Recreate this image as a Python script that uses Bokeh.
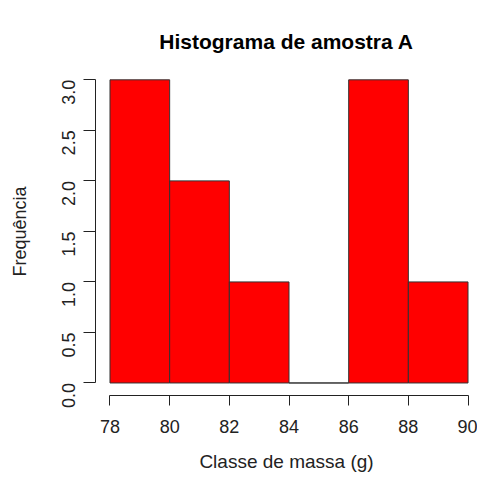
import math
from bokeh.plotting import figure
from bokeh.models import Range1d, FixedTicker, ColumnDataSource, NumeralTickFormatter
from bokeh.embed import file_html
from bokeh.resources import INLINE

# Data
bin_left = [78, 80, 82, 84, 86, 88]
bin_right = [80, 82, 84, 86, 88, 90]
counts = [3, 2, 1, 0, 3, 1]
x_ticks = [78, 80, 82, 84, 86, 88, 90]
y_ticks = [0.0, 0.5, 1.0, 1.5, 2.0, 2.5, 3.0]

title_text = "Histograma de amostra A"
x_label = "Classe de massa (g)"
y_label = "Frequência"

FONT = "Liberation Sans"

p = figure(width=477, height=476, output_backend="svg", toolbar_location=None,
           x_range=Range1d(77.514, 90.318), y_range=Range1d(-0.124, 3.122),
           min_border_left=95, min_border_right=0, min_border_top=67, min_border_bottom=81)
p.background_fill_color = "white"
p.border_fill_color = "white"
p.outline_line_color = None
p.xgrid.visible = False
p.ygrid.visible = False

src = ColumnDataSource(dict(left=bin_left, right=bin_right, top=counts, bottom=[0] * len(counts)))
p.quad(left="left", right="right", top="top", bottom="bottom", source=src,
       fill_color="#ff0000", line_color="#333333", line_width=1)

# Title
p.title.text = title_text
p.title.align = "center"
p.title.text_font = FONT
p.title.text_font_size = "21px"
p.title.text_font_style = "bold"
p.title.text_color = "#000000"
p.title.standoff = 30

# X axis
xa = p.xaxis[0]
xa.ticker = FixedTicker(ticks=x_ticks)
xa.bounds = (78, 90)
xa.major_tick_out = 10
xa.major_tick_in = 0
xa.minor_tick_line_color = None
xa.axis_line_color = "#222222"
xa.major_tick_line_color = "#222222"
xa.major_label_text_font = FONT
xa.major_label_text_font_size = "18px"
xa.major_label_text_color = "#222222"
xa.major_label_standoff = 14
xa.axis_label = x_label
xa.axis_label_text_font = FONT
xa.axis_label_text_font_size = "19px"
xa.axis_label_text_font_style = "normal"
xa.axis_label_text_color = "#222222"
xa.axis_label_standoff = 15

# Y axis
ya = p.yaxis[0]
ya.ticker = FixedTicker(ticks=y_ticks)
ya.formatter = NumeralTickFormatter(format="0.0")
ya.bounds = (0, 3)
ya.major_tick_out = 12
ya.major_tick_in = 0
ya.minor_tick_line_color = None
ya.axis_line_color = "#222222"
ya.major_tick_line_color = "#222222"
ya.major_label_orientation = math.pi / 2
ya.major_label_text_font = FONT
ya.major_label_text_font_size = "18px"
ya.major_label_text_color = "#222222"
ya.major_label_standoff = 15
ya.axis_label = y_label
ya.axis_label_text_font = FONT
ya.axis_label_text_font_size = "18px"
ya.axis_label_text_font_style = "normal"
ya.axis_label_text_color = "#222222"
ya.axis_label_standoff = 23

open("out.html", "w").write(file_html(p, INLINE))
